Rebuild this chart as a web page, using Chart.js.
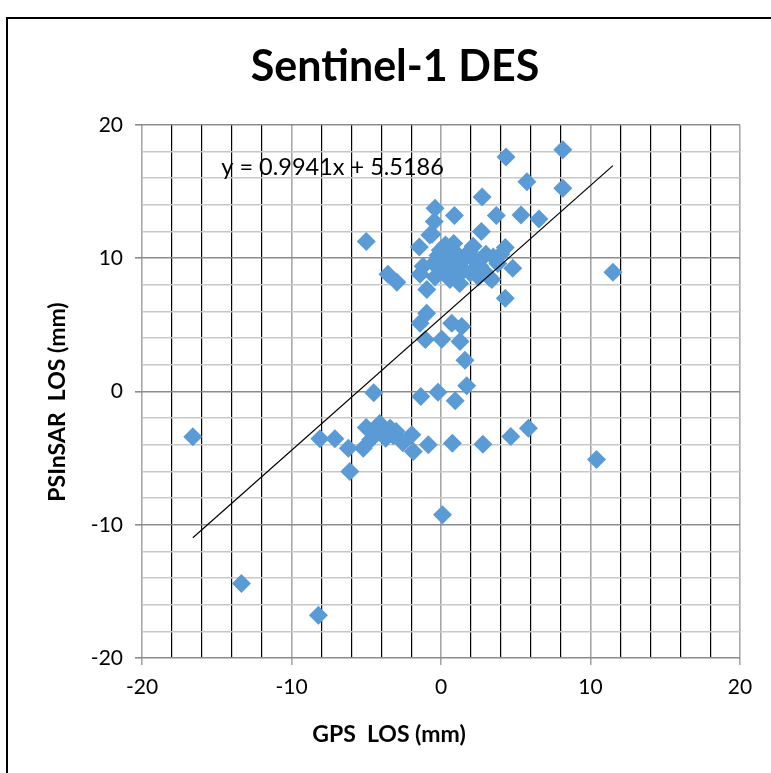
<!DOCTYPE html>
<html>
<head>
<meta charset="utf-8">
<script src="https://cdn.jsdelivr.net/npm/chart.js@4.4.1/dist/chart.umd.min.js"></script>
<style>
  body { margin: 0; background: #fff; overflow: hidden; }
  #wrap { position: relative; width: 771px; height: 773px; }
  #frame { position: absolute; left: 6px; top: 17px; width: 800px; height: 800px; border: 2px solid #000; box-sizing: border-box; pointer-events: none; }
  canvas { position: absolute; left: 0; top: 0; }
</style>
</head>
<body>
<div id="wrap">
  <canvas id="chart" width="771" height="773"></canvas>
  <div id="frame"></div>
</div>
<script>
// GPS LOS (mm) vs PSInSAR LOS (mm)
const gpsLos = [
  -16.6, -13.35, -8.2, -8.1, -7.1, -6.2, -6.1, -5.2, -5.0, -4.5,
  -4.1, -4.7, -3.7, -3.4, -3.2, -2.55, -1.95, -1.85, -0.85, 0.76,
  2.8, 4.67, 5.85, 10.4, 0.1, -1.35, -0.2, 0.95, 1.72, 1.6,
  1.27, 0.05, -1.05, -1.4, -0.96, 0.72, 1.39, -5.0, -3.55, -2.95,
  -1.4, -0.95, -1.45, -0.6, -0.45, -0.4, 0.9, 2.75, 2.7, 3.7,
  4.35, 5.75, 5.35, 6.55, 8.15, 8.15, 4.3, 4.8, 4.3, 3.4,
  11.5, -4.3, -3.0,
  -0.75, -0.05, 0.85, 2.15, 3.5, 0.15, 1.25, 1.95, 0.6, -0.5,
  1.25, 2.6, -0.4, -1.2, 0.4, 1.0, 1.6, 2.2, 3.0, 3.8,
  0.0, 0.8, 1.5, 2.9, -0.2, 0.5, 3.2, 1.9, 4.0, 2.5, 0.3
];
const psinsarLos = [
  -3.4, -14.4, -16.8, -3.55, -3.55, -4.25, -6.0, -4.25, -2.7, -0.1,
  -2.4, -3.6, -3.5, -2.75, -3.3, -3.85, -3.25, -4.5, -4.0, -3.88,
  -3.95, -3.38, -2.75, -5.1, -9.25, -0.38, -0.05, -0.7, 0.43, 2.35,
  3.75, 3.93, 3.9, 5.13, 5.88, 5.13, 4.88, 11.25, 8.8, 8.2,
  8.8, 7.65, 10.85, 11.8, 12.75, 13.75, 13.2, 14.6, 12.0, 13.2,
  17.6, 15.75, 13.25, 12.95, 18.15, 15.25, 10.8, 9.25, 7.0, 8.4,
  8.95, -3.0, -3.0,
  11.75, 10.6, 11.1, 10.9, 10.1, 9.4, 9.6, 8.9, 8.4, 9.6,
  8.1, 9.4, 8.6, 9.4, 10.2, 10.4, 10.0, 9.9, 10.3, 9.6,
  9.0, 8.9, 9.1, 9.0, 10.2, 9.7, 8.6, 10.5, 10.3, 8.6, 11.0
];

// linear trendline end points as drawn
const trendX = [-16.6, 11.5];
const trendY = [-10.98, 16.95];
const trendLabel = 'y = 0.9941x + 5.5186';

const xTicks = [-20, -10, 0, 10, 20];
const yTicks = [-20, -10, 0, 10, 20];

const points = gpsLos.map((x, i) => ({ x: x, y: psinsarLos[i] }));
const trendPoints = trendX.map((x, i) => ({ x: x, y: trendY[i] }));

const isMajor = v => xTicks.includes(v);

// draws the title, axis titles and the equation text
const textPlugin = {
  id: 'texts',
  afterDraw(chart) {
    const ctx = chart.ctx;
    const xs = chart.scales.x, ys = chart.scales.y;
    ctx.save();
    ctx.fillStyle = '#000';
    ctx.textAlign = 'center';
    ctx.textBaseline = 'middle';
    ctx.font = 'bold 43px Lato';
    ctx.fillText('Sentinel-1 DES', 395, 67);

    ctx.font = 'bold 23px Lato';
    ctx.fillText('GPS  LOS (mm)', 389, 735);

    ctx.save();
    ctx.translate(58, 402);
    ctx.rotate(-Math.PI / 2);
    ctx.fillText('PSInSAR  LOS (mm)', 0, 0);
    ctx.restore();

    ctx.font = '23.5px Lato';
    ctx.fillText(trendLabel, xs.getPixelForValue(-7.25), ys.getPixelForValue(16.85));
    ctx.restore();
  }
};

new Chart(document.getElementById('chart'), {
  type: 'scatter',
  data: {
    datasets: [
      {
        label: 'Trend',
        type: 'line',
        data: trendPoints,
        borderColor: '#000',
        borderWidth: 1.2,
        pointRadius: 0,
        fill: false,
        order: 0
      },
      {
        label: 'Sentinel-1 DES',
        data: points,
        pointStyle: 'rectRot',
        pointRadius: 9.5,
        backgroundColor: '#5b9bd5',
        borderColor: '#5b9bd5',
        borderWidth: 0,
        order: 1
      }
    ]
  },
  options: {
    responsive: false,
    animation: false,
    layout: { padding: { left: 0, top: 125, right: 31, bottom: 0 } },
    plugins: {
      legend: { display: false },
      tooltip: { enabled: false }
    },
    scales: {
      x: {
        type: 'linear',
        min: -20,
        max: 20,
        afterFit: s => { s.height = 115; },
        border: { display: false },
        ticks: {
          stepSize: 2,
          autoSkip: false,
          maxRotation: 0,
          color: '#000',
          font: { family: 'Lato', size: 21 },
          padding: 10,
          callback: v => isMajor(v) ? v : ''
        },
        grid: {
          color: c => isMajor(c.tick.value) ? '#a6a6a6' : '#000',
          lineWidth: c => isMajor(c.tick.value) ? 1.6 : 1.2,
          tickLength: 7,
          tickColor: c => isMajor(c.tick.value) ? '#a6a6a6' : 'rgba(0,0,0,0)'
        }
      },
      y: {
        type: 'linear',
        min: -20,
        max: 20,
        afterFit: s => { s.width = 142; },
        border: { display: false },
        ticks: {
          stepSize: 2,
          autoSkip: false,
          color: '#000',
          font: { family: 'Lato', size: 21 },
          padding: 12,
          callback: v => yTicks.includes(v) ? v : ''
        },
        grid: {
          color: c => yTicks.includes(c.tick.value) ? '#8c8c8c' : '#c8c8c8',
          lineWidth: 1.6,
          tickLength: 7,
          tickColor: c => yTicks.includes(c.tick.value) ? '#8c8c8c' : 'rgba(0,0,0,0)'
        }
      }
    }
  },
  plugins: [textPlugin]
});
</script>
</body>
</html>
